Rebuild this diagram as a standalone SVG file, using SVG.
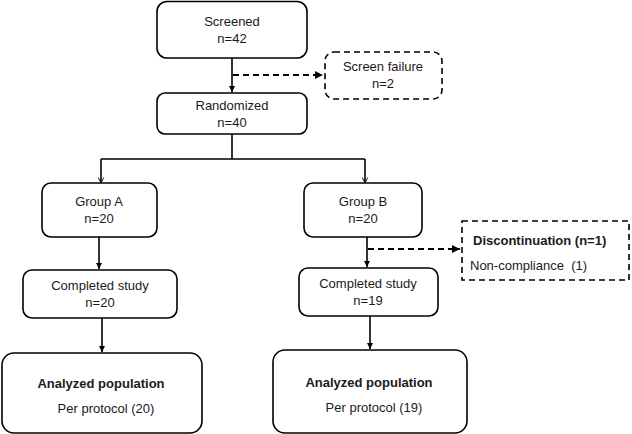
<svg xmlns="http://www.w3.org/2000/svg" width="632" height="434" viewBox="0 0 632 434">
<style>
.box{fill:#fff;stroke:#000;stroke-width:1.6}
.dbox{fill:#fff;stroke:#000;stroke-width:1.6;stroke-dasharray:6 4}
.ln{fill:none;stroke:#000;stroke-width:1.6}
.dln{fill:none;stroke:#000;stroke-width:2;stroke-dasharray:6 4}
text{font-family:"Liberation Sans",Arial,sans-serif;font-size:13px;fill:#1a1a1a}
.c{text-anchor:middle}
.b{font-weight:bold}
</style>
<defs>
<marker id="tri" viewBox="0 0 10 10" refX="10" refY="5" markerWidth="4" markerHeight="4" orient="auto" markerUnits="strokeWidth"><path d="M0,0 L10,5 L0,10 z" fill="#000"/></marker>
<marker id="vee" viewBox="0 0 10 10" refX="9" refY="5" markerWidth="7" markerHeight="7" orient="auto" markerUnits="userSpaceOnUse"><path d="M1,1 L9,5 L1,9" fill="none" stroke="#000" stroke-width="1.3"/></marker>
</defs>
<g id="connectors">
<path class="ln" d="M232,58 V92" marker-end="url(#tri)"/>
<path class="dln" d="M233,75 H323" marker-end="url(#tri)"/>
<path class="ln" d="M232,134 V159"/>
<path class="ln" d="M101,159 H365"/>
<path class="ln" d="M101,159 V183" marker-end="url(#vee)"/>
<path class="ln" d="M365,159 V183" marker-end="url(#vee)"/>
<path class="ln" d="M99,237 V269" marker-end="url(#tri)"/>
<path class="ln" d="M367,237 V267" marker-end="url(#tri)"/>
<path class="dln" d="M368,249 H460" marker-end="url(#tri)"/>
<path class="ln" d="M102,318 V352" marker-end="url(#tri)"/>
<path class="ln" d="M370,316 V349" marker-end="url(#tri)"/>
</g>
<g id="screened"><rect class="box" x="157" y="1.5" width="150" height="56.5" rx="10"/><text class="c" x="232" y="26">Screened</text><text class="c" x="232" y="43">n=42</text></g>
<g id="screen-failure"><rect class="dbox" x="325" y="52" width="117" height="47" rx="9"/><text class="c" x="383" y="71">Screen failure</text><text class="c" x="383" y="88">n=2</text></g>
<g id="randomized"><rect class="box" x="157" y="93" width="150" height="41" rx="8"/><text class="c" x="232" y="110">Randomized</text><text class="c" x="232" y="127">n=40</text></g>
<g id="group-a"><rect class="box" x="42" y="183" width="115" height="54" rx="9"/><text class="c" x="99" y="206">Group A</text><text class="c" x="99" y="223">n=20</text></g>
<g id="group-b"><rect class="box" x="304" y="183" width="118" height="54" rx="9"/><text class="c" x="363" y="206">Group B</text><text class="c" x="363" y="223">n=20</text></g>
<g id="discontinuation"><rect class="dbox" x="462" y="221" width="167" height="59"/><text class="b" x="473" y="245">Discontinuation (n=1)</text><text x="470" y="270">Non-compliance&#160; (1)</text></g>
<g id="completed-a"><rect class="box" x="23" y="270" width="154" height="48" rx="9"/><text class="c" x="100" y="290">Completed study</text><text class="c" x="100" y="307">n=20</text></g>
<g id="completed-b"><rect class="box" x="299" y="268" width="139" height="48" rx="9"/><text class="c" x="368" y="288">Completed study</text><text class="c" x="368" y="305">n=19</text></g>
<g id="analyzed-a"><rect class="box" x="2" y="353" width="200" height="80" rx="12"/><text class="c b" x="101" y="388">Analyzed population</text><text class="c" x="106" y="413">Per protocol (20)</text></g>
<g id="analyzed-b"><rect class="box" x="273" y="350" width="194" height="83" rx="12"/><text class="c b" x="369" y="387">Analyzed population</text><text class="c" x="374" y="412">Per protocol (19)</text></g>
</svg>
